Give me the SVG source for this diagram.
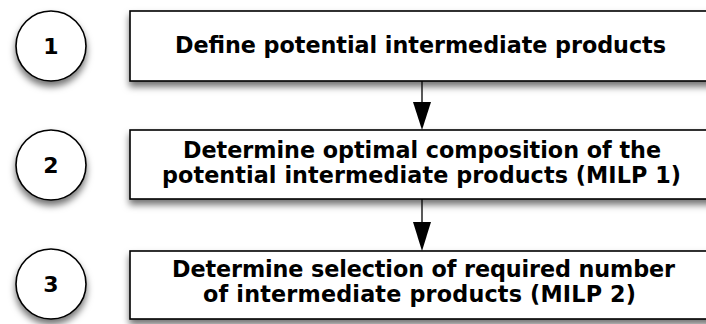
<svg xmlns="http://www.w3.org/2000/svg" width="706" height="324" viewBox="0 0 706 324">
<defs>
<filter id="sh" x="-20%" y="-30%" width="140%" height="170%">
<feDropShadow dx="0" dy="5" stdDeviation="3.5" flood-color="#000" flood-opacity="0.55"/>
</filter>
</defs>
<style>
.nd{fill:#fff;stroke:#000;stroke-width:1.6;filter:url(#sh)}
.t{font-family:"DejaVu Sans",Verdana,sans-serif;font-weight:bold;font-size:22.3px;fill:#000;text-anchor:middle}
.n{font-family:"DejaVu Sans",Verdana,sans-serif;font-weight:bold;font-size:22px;fill:#000;text-anchor:middle}
.c{stroke:#000;stroke-width:1.3;fill:none}
.h{fill:#000}
</style>
<rect width="706" height="324" fill="#fff"/>
<g id="connectors">
<line class="c" x1="422" y1="81" x2="422" y2="102"/>
<path class="h" d="M413,102 L431,102 L422,130 Z"/>
<line class="c" x1="422" y1="199" x2="422" y2="222"/>
<path class="h" d="M413,222 L431,222 L422,251 Z"/>
</g>
<g id="c1"><circle class="nd" cx="51" cy="46" r="35"/><text class="n" x="51" y="54">1</text></g>
<g id="c2"><circle class="nd" cx="51" cy="165" r="35"/><text class="n" x="51" y="173">2</text></g>
<g id="c3"><circle class="nd" cx="51" cy="284" r="35"/><text class="n" x="51" y="292">3</text></g>
<g id="b1"><rect class="nd" x="130" y="11" width="590" height="70"/><text class="t" x="420.5" y="53" textLength="491" lengthAdjust="spacing">Define potential intermediate products</text></g>
<g id="b2"><rect class="nd" x="130" y="130" width="590" height="69"/><text class="t" x="422" y="158" textLength="478" lengthAdjust="spacing">Determine optimal composition of the</text><text class="t" x="421.5" y="183" textLength="519" lengthAdjust="spacing">potential intermediate products (MILP 1)</text></g>
<g id="b3"><rect class="nd" x="130" y="251" width="590" height="68"/><text class="t" x="423.5" y="277" textLength="503" lengthAdjust="spacing">Determine selection of required number</text><text class="t" x="419.5" y="302" textLength="433" lengthAdjust="spacing">of intermediate products (MILP 2)</text></g>
</svg>
